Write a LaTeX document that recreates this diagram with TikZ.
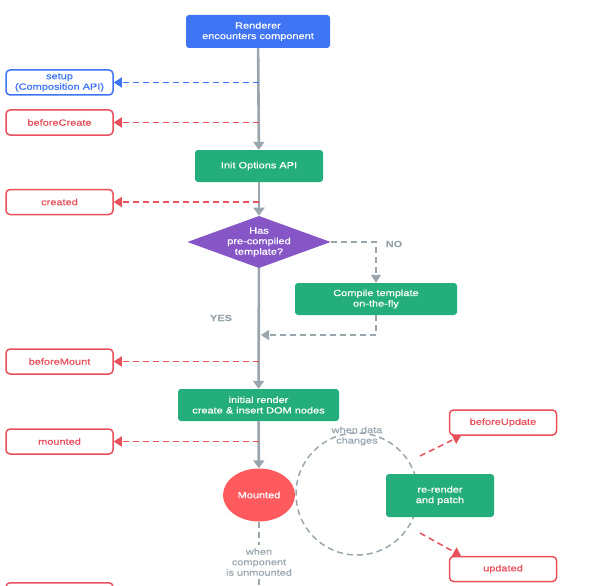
\documentclass[tikz,border=0pt]{standalone}
\usepackage{fontspec}
\setmainfont{Liberation Sans}[FakeStretch=1.22, FakeBold=0.6]
\usetikzlibrary{arrows.meta,shapes.geometric,positioning,calc}

\definecolor{flowblue}{HTML}{3F74F5}
\definecolor{stepgreen}{HTML}{24AE7B}
\definecolor{hookred}{HTML}{E8505B}
\definecolor{mountred}{HTML}{FF5B5E}
\definecolor{checkpurple}{HTML}{8656C7}
\definecolor{flowgray}{HTML}{9AA6AE}

\tikzset{
    every node/.style={font=\fontsize{9}{10.5}\selectfont, align=center},
    stepbox/.style={fill=stepgreen, text=white, rounded corners=3pt, minimum height=32pt, inner sep=2pt},
    hookbox/.style={draw=hookred, fill=white, text=hookred, line width=1.5pt, rounded corners=4pt, minimum width=107pt, minimum height=25pt},
    flow/.style={draw=flowgray, line width=2.6pt, -{Triangle[width=11pt,length=8pt]}},
    hookline/.style={draw=hookred, line width=1.5pt, dash pattern=on 6pt off 4pt, -{Triangle[width=10pt,length=8pt]}},
    branch/.style={draw=flowgray, line width=1.5pt, dash pattern=on 6pt off 4pt},
    note/.style={text=flowgray}
}

\begin{document}
\begin{tikzpicture}[x=1pt, y=-1pt]
    \useasboundingbox (0,0) rectangle (595,586);
    \clip (0,0) rectangle (595,586);

    % update loop behind the nodes
    \coordinate (loopc) at (357,494);
    \draw[branch] (loopc) circle (61);

    \node (renderer) [fill=flowblue, text=white, rounded corners=3pt, minimum width=144pt, minimum height=33pt] at (258,31.5) {Renderer\\encounters component};

    \node (setup) [hookbox, draw=flowblue, text=flowblue] at (59.5,82.5) {setup\\(Composition API)};
    \node (beforecreate) [hookbox] at (59.5,122.5) {beforeCreate};

    \node (init) [stepbox, minimum width=128pt] at (259,166) {Init Options API};
    \node (created) [hookbox] at (59.5,202) {created};

    \node (check) [diamond, aspect=2.75, inner sep=0pt, fill=checkpurple, text=white, minimum width=143pt, minimum height=52pt] at (259,242) {Has\\pre-compiled\\template?};
    \node (compile) [stepbox, minimum width=162pt] at (376,299) {Compile template\\on-the-fly};
    \node (no) [note, font=\fontsize{9}{10.5}\selectfont\bfseries] at (394,244) {NO};
    \node (yes) [note, font=\fontsize{9}{10.5}\selectfont\bfseries] at (221,318) {YES};

    \node (beforemount) [hookbox] at (59.5,361.5) {beforeMount};
    \node (render) [stepbox, minimum width=161pt] at (258.5,405) {initial render\\create \& insert DOM nodes};
    \node (mountedhook) [hookbox] at (59.5,441.5) {mounted};

    \node (mounted) [ellipse, fill=mountred, text=white, minimum width=72pt, minimum height=53pt, inner sep=0pt] at (259,495) {Mounted};
    \node (rerender) [stepbox, minimum width=108pt, minimum height=43pt] at (440,495.5) {re-render\\and patch};
    \node (datachange) [note] at (357,436) {when data\\changes};

    \node (beforeupdate) [hookbox] at (503,422.5) {beforeUpdate};
    \node (updated) [hookbox] at (503,569) {updated};

    \node (unmount) [note] at (259,562) {when\\component\\is unmounted};
    \node (unmounthook) [hookbox, anchor=north] at (59.5,582) {};

    % main flow
    \draw[flow] (renderer) -- (init);
    \draw[flow] (init) -- (check);
    \draw[flow] (check) -- (render);
    \draw[flow] (render) -- (mounted);

    % hooks
    \coordinate (hsetup) at (259,82.5);
    \coordinate (hcreate) at (259,122.5);
    \coordinate (hcreated) at (259,202);
    \coordinate (hmount) at (259,361.5);
    \coordinate (hmounted) at (259,441.5);
    \draw[hookline, draw=flowblue] (hsetup) -- (setup);
    \draw[hookline] (hcreate) -- (beforecreate);
    \draw[hookline] (hcreated) -- (created);
    \draw[hookline] (hmount) -- (beforemount);
    \draw[hookline] (hmounted) -- (mountedhook);

    % template branch
    \coordinate (join) at (261,335);
    \draw[branch, -{Triangle[width=10pt,length=8pt]}] (check.east) -| (compile.north);
    \draw[branch, -{Triangle[width=10pt,length=8pt]}] (compile.south) |- (join);

    % update hooks
    \coordinate (upd1) at (420,456);
    \coordinate (upd2) at (420,533);
    \draw[hookline] (upd1) -- ([xshift=-42pt]beforeupdate.south);
    \draw[hookline] (upd2) -- ([xshift=-42pt]updated.north);

    % unmount
    \coordinate (bottom) at (259,590);
    \draw[branch] (mounted) -- (unmount);
    \draw[branch] (unmount) -- (bottom);
\end{tikzpicture}
\end{document}
